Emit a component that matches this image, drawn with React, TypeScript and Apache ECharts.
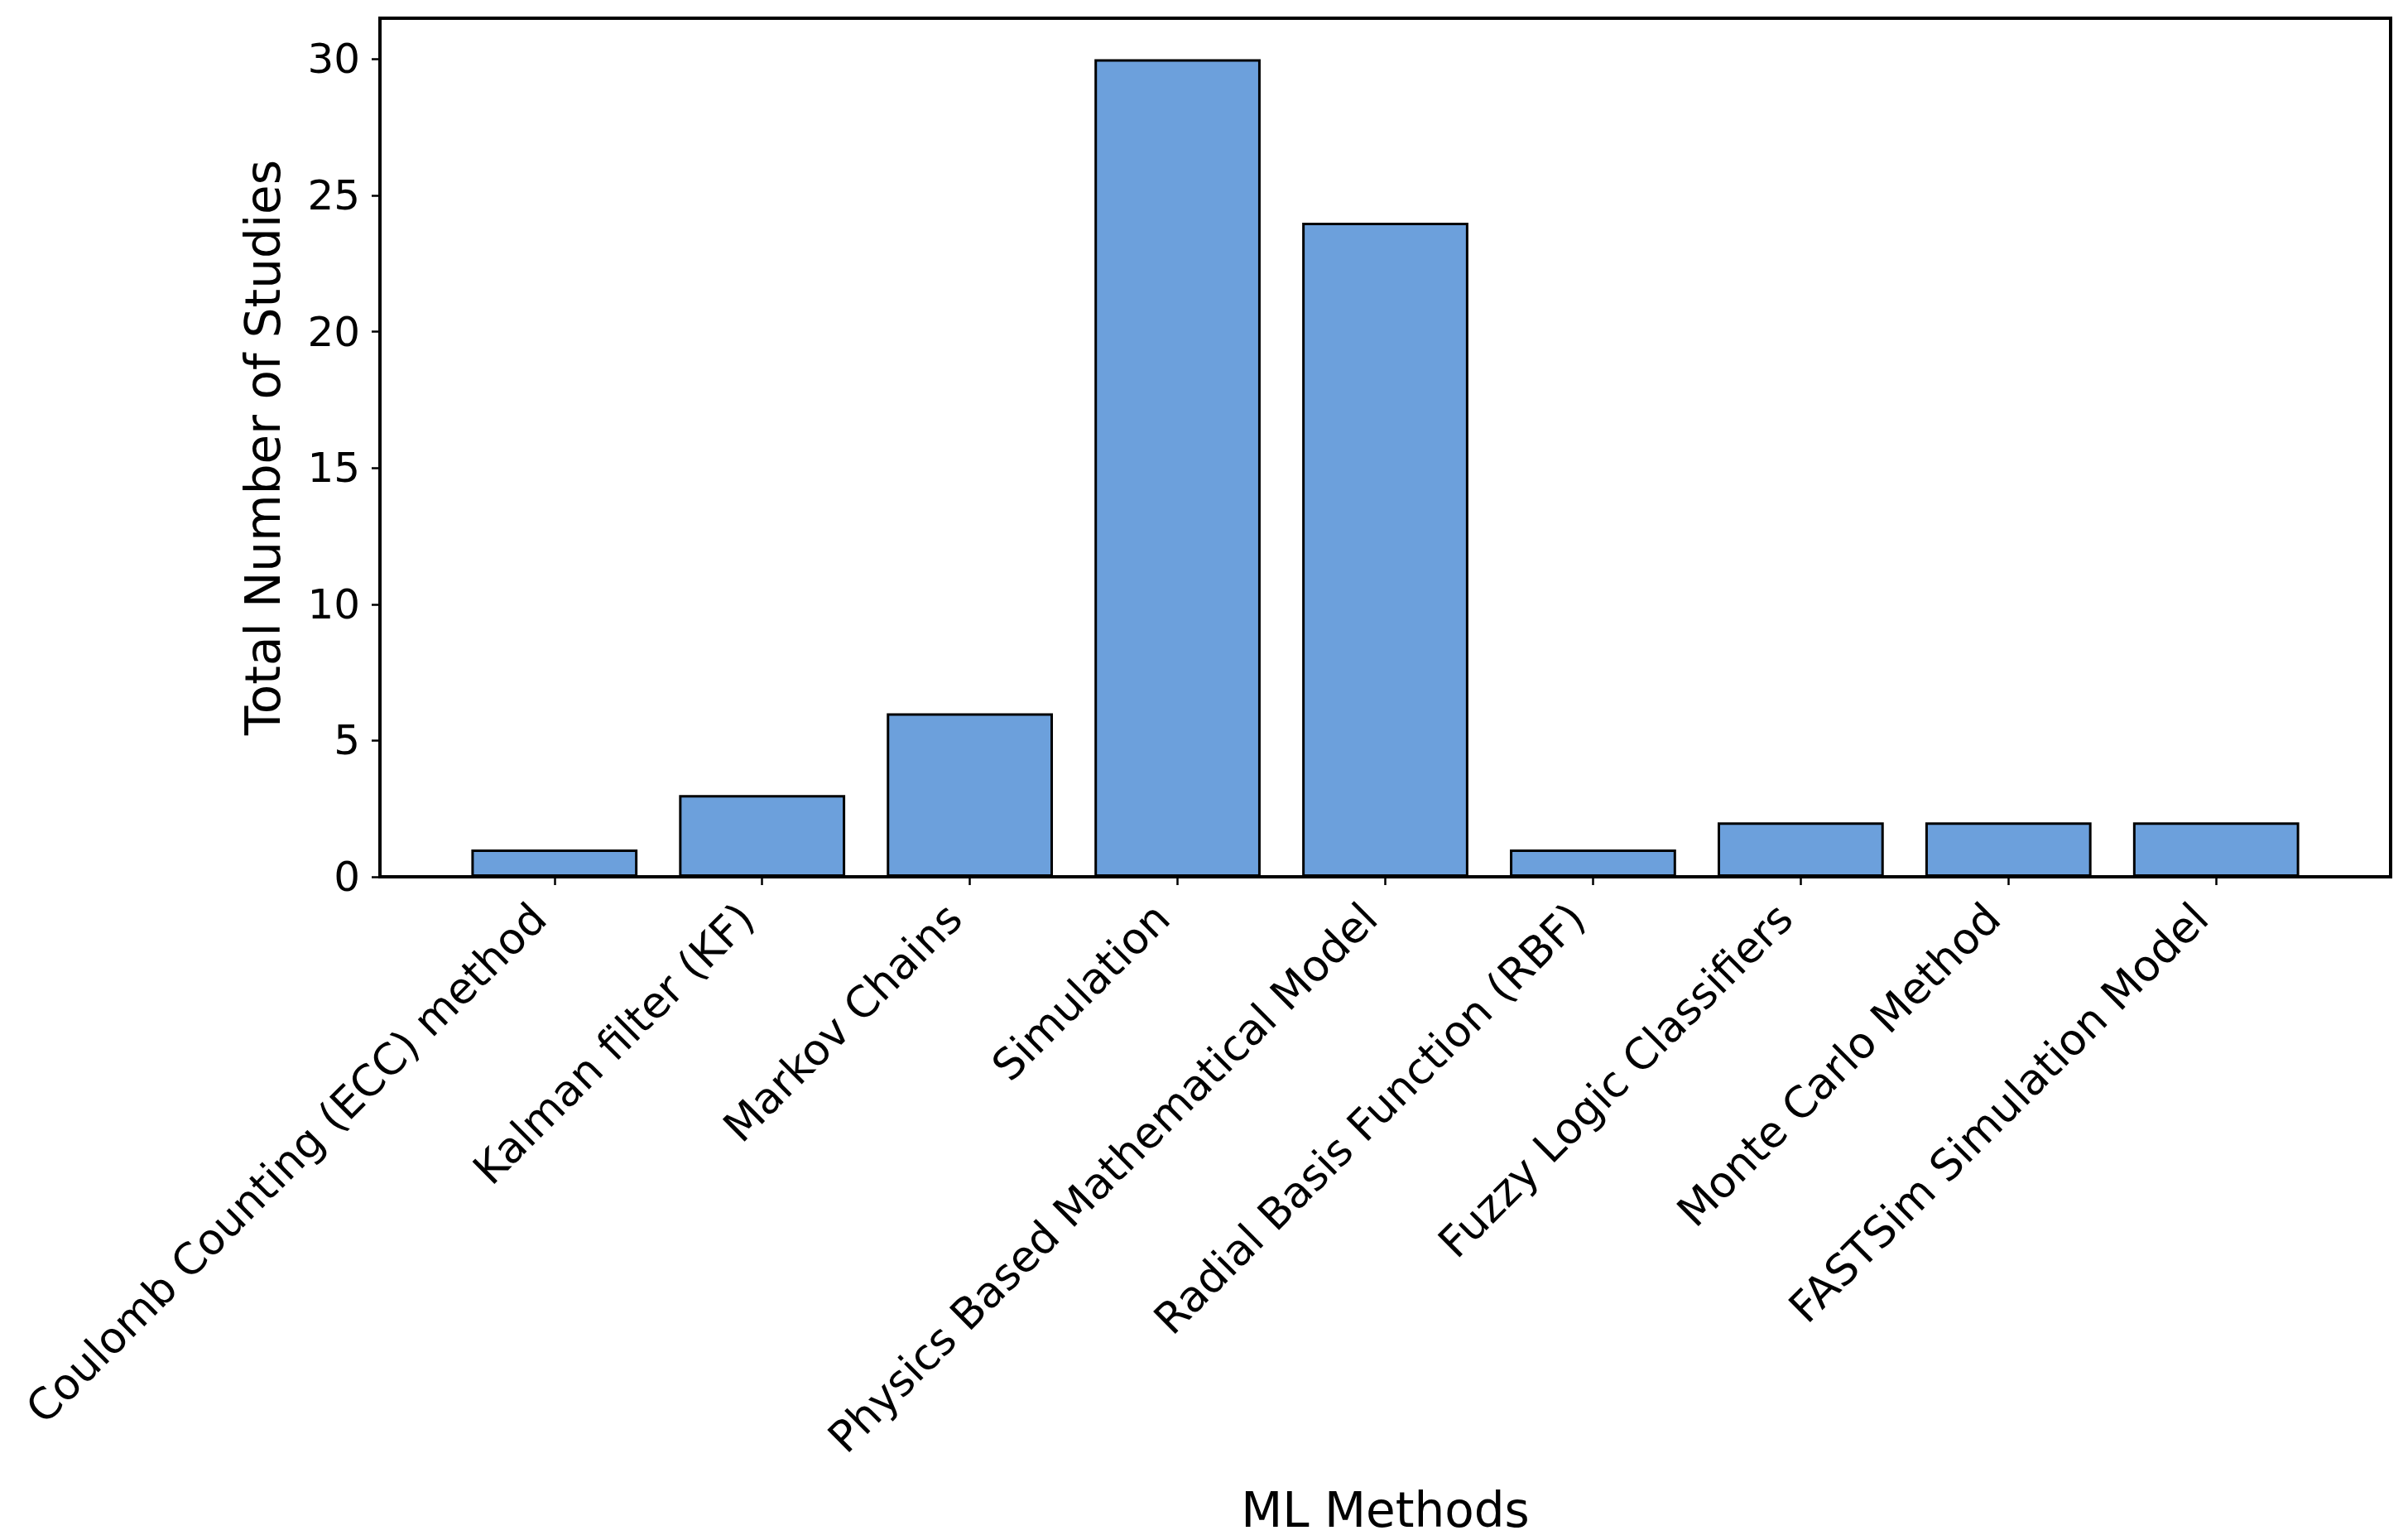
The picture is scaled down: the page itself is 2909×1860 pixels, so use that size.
import React, { useEffect, useRef } from "react";
import * as echarts from "echarts";

const categories = [
  "Coulomb Counting (ECC) method",
  "Kalman filter (KF)",
  "Markov Chains",
  "Simulation",
  "Physics Based Mathematical Model",
  "Radial Basis Function (RBF)",
  "Fuzzy Logic Classifiers",
  "Monte Carlo Method",
  "FASTSim Simulation Model",
];
const values = [1, 3, 6, 30, 24, 1, 2, 2, 2];
const yTicks = [0, 5, 10, 15, 20, 25, 30];
const xTicks = [0, 1, 2, 3, 4, 5, 6, 7, 8];

const FONT = "DejaVu Sans";
const W = 2909;
const H = 1860;
const GRID = { left: 459, right: 21, top: 22, bottom: 801 };
const X_MIN = -0.84;
const X_MAX = 8.84;

export default function App() {
  const ref = useRef<HTMLDivElement>(null);
  useEffect(() => {
    if (!ref.current) return;
    const chart = echarts.init(ref.current, undefined, { renderer: "svg" });
    const gridW = chart.getWidth() - GRID.left - GRID.right;
    const barW = (0.8 * gridW) / (X_MAX - X_MIN);
    chart.setOption({
      animation: false,
      backgroundColor: "#ffffff",
      grid: {
        ...GRID,
        show: true,
        borderColor: "#000",
        borderWidth: 4,
        backgroundColor: "transparent",
        outerBoundsMode: "none",
      },
      xAxis: {
        type: "value",
        min: X_MIN,
        max: X_MAX,
        splitLine: { show: false },
        axisLine: { show: true, onZero: false, lineStyle: { color: "#000", width: 4 } },
        axisTick: {
          show: true,
          customValues: xTicks,
          length: 10,
          lineStyle: { color: "#000", width: 2.5 },
        },
        axisLabel: {
          customValues: xTicks,
          formatter: (v: number) => categories[Math.round(v)] ?? "",
          rotate: 45,
          fontSize: 52,
          color: "#000",
          fontFamily: FONT,
          margin: 22,
          padding: [0, 27, 0, 0],
          hideOverlap: false,
        },
        name: "ML Methods",
        nameLocation: "middle",
        nameGap: 736,
        nameTextStyle: { fontSize: 58, color: "#000", fontFamily: FONT },
      },
      yAxis: {
        type: "value",
        min: 0,
        max: 31.5,
        splitLine: { show: false },
        axisLine: { show: true, onZero: false, lineStyle: { color: "#000", width: 4 } },
        axisTick: {
          show: true,
          customValues: yTicks,
          length: 10,
          lineStyle: { color: "#000", width: 2.5 },
        },
        axisLabel: {
          customValues: yTicks,
          fontSize: 50,
          color: "#000",
          fontFamily: FONT,
          margin: 24,
        },
        name: "Total Number of Studies",
        nameLocation: "middle",
        nameGap: 112,
        nameRotate: 90,
        nameTextStyle: { fontSize: 58, color: "#000", fontFamily: FONT },
      },
      series: [
        {
          type: "bar",
          data: values.map((v, i) => [i, v]),
          barWidth: barW,
          itemStyle: { color: "#6CA0DC", borderColor: "#000", borderWidth: 3 },
        },
      ],
    });
    return () => chart.dispose();
  }, []);
  return (
    <div
      ref={ref}
      style={{ position: "fixed", left: 0, top: 0, width: W + "px", height: H + "px" }}
    />
  );
}
